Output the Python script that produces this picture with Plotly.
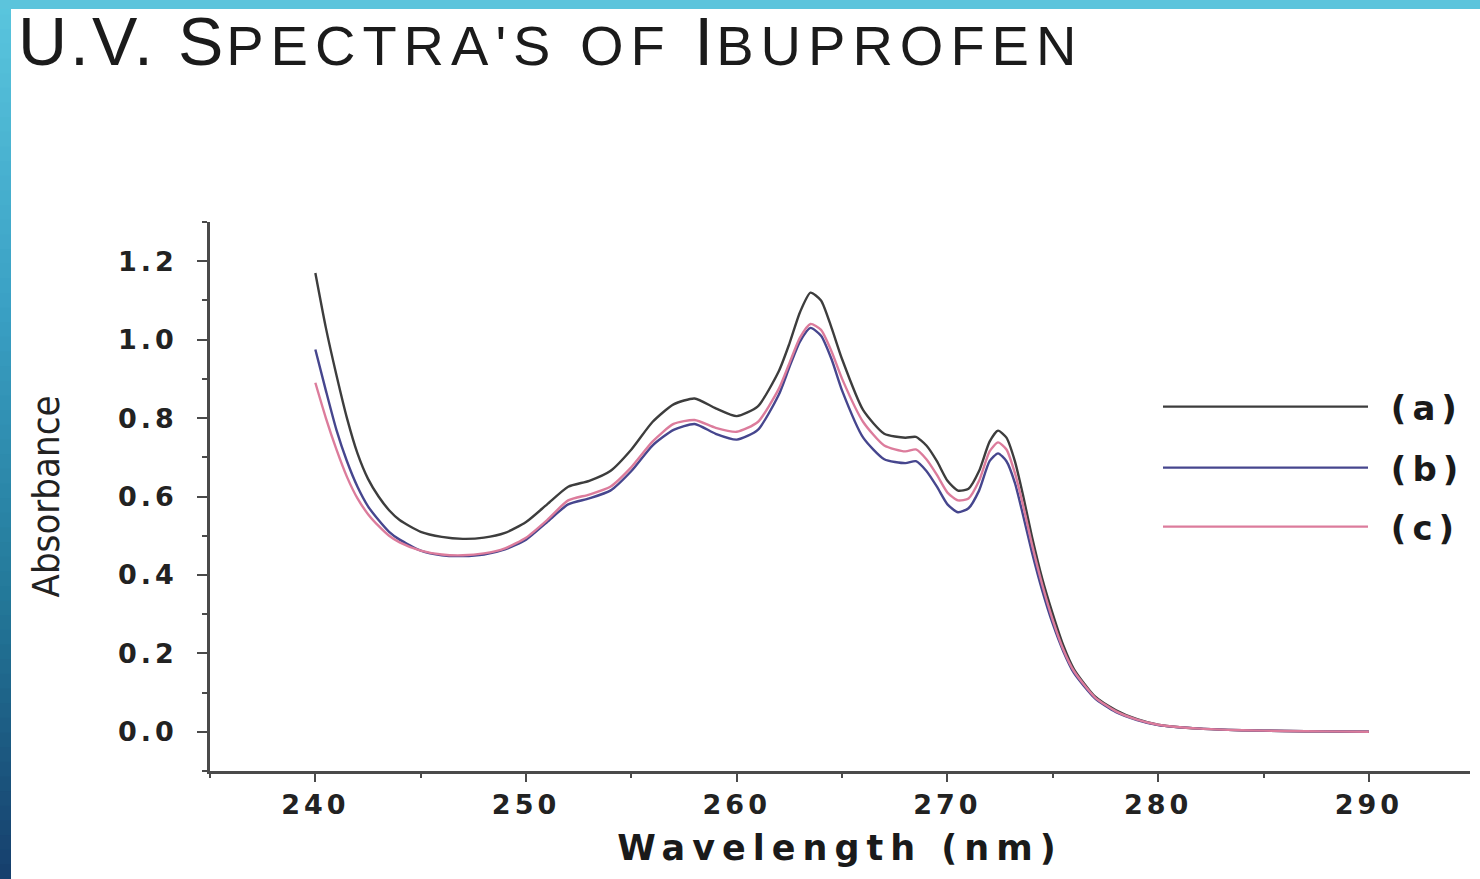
import plotly.graph_objects as go

# ---------------- data ----------------
wavelength = [240, 240.5, 241, 241.5, 242, 242.5, 243, 243.5, 244, 245, 246, 247, 248, 249,
              250, 251, 252, 253, 254, 255, 256, 257, 258, 259, 260, 261, 262, 262.5, 263,
              263.5, 264, 264.5, 265, 266, 267, 268, 268.5, 269, 269.5, 270, 270.5, 271,
              271.5, 272, 272.4, 272.8, 273.2, 273.6, 274, 274.5, 275, 275.5, 276, 277,
              278, 279, 280, 282, 284, 286, 288, 290]

abs_a = [1.17, 1.03, 0.91, 0.80, 0.71, 0.645, 0.60, 0.565, 0.54, 0.51, 0.497, 0.492, 0.495, 0.507,
         0.535, 0.58, 0.625, 0.64, 0.665, 0.72, 0.79, 0.835, 0.85, 0.825, 0.805, 0.83, 0.92, 0.99, 1.07,
         1.12, 1.10, 1.03, 0.95, 0.82, 0.76, 0.75, 0.752, 0.73, 0.69, 0.64, 0.615, 0.62,
         0.665, 0.74, 0.768, 0.75, 0.69, 0.60, 0.50, 0.39, 0.30, 0.22, 0.16, 0.09,
         0.055, 0.032, 0.018, 0.008, 0.004, 0.002, 0.001, 0.0]

abs_b = [0.975, 0.87, 0.77, 0.69, 0.625, 0.575, 0.54, 0.51, 0.49, 0.462, 0.45, 0.448, 0.452, 0.465,
         0.49, 0.535, 0.58, 0.595, 0.615, 0.665, 0.73, 0.77, 0.785, 0.76, 0.745, 0.77, 0.86, 0.93, 0.995,
         1.03, 1.01, 0.95, 0.87, 0.75, 0.695, 0.685, 0.69, 0.665, 0.625, 0.58, 0.56, 0.57,
         0.615, 0.69, 0.71, 0.69, 0.635, 0.55, 0.46, 0.36, 0.275, 0.205, 0.15, 0.085,
         0.05, 0.03, 0.017, 0.008, 0.004, 0.002, 0.001, 0.0]

abs_c = [0.89, 0.80, 0.72, 0.65, 0.595, 0.555, 0.525, 0.50, 0.483, 0.462, 0.452, 0.45, 0.455, 0.468,
         0.495, 0.54, 0.59, 0.605, 0.625, 0.675, 0.74, 0.785, 0.795, 0.775, 0.765, 0.79, 0.875, 0.94, 1.005,
         1.04, 1.025, 0.97, 0.90, 0.79, 0.73, 0.715, 0.72, 0.695, 0.655, 0.61, 0.59, 0.595,
         0.64, 0.715, 0.738, 0.72, 0.66, 0.575, 0.48, 0.375, 0.285, 0.21, 0.155, 0.088,
         0.052, 0.031, 0.018, 0.008, 0.004, 0.002, 0.001, 0.0]

series_names = ["(a)", "(b)", "(c)"]
series_values = [abs_a, abs_b, abs_c]
series_colors = ["#3d3d3d", "#46468e", "#dc7c9c"]

y_tickvals = [0.0, 0.2, 0.4, 0.6, 0.8, 1.0, 1.2]
x_tickvals = [240, 250, 260, 270, 280, 290]

# ---------------- layout constants ----------------
W, H = 1480, 879
ML, MR, MT, MB = 210, 10, 222, 108
PW, PH = W - ML - MR, H - MT - MB


def px_x(px):
    return (px - ML) / PW


def px_y(py):
    return (H - MB - py) / PH


def spaced(text, ls):
    return f"<span style='letter-spacing:{ls}px'>{text}</span>"


fig = go.Figure()

legend_names = ["legend", "legend2", "legend3"]
legend_centers = [407, 468, 527]

for name, vals, col, lg in zip(series_names, series_values, series_colors, legend_names):
    fig.add_trace(go.Scatter(
        x=wavelength, y=vals, mode="lines", name=spaced(" " + name, 6),
        line=dict(color=col, width=2.4, shape="spline", smoothing=0.6),
        legend=lg,
    ))

legend_common = dict(
    font=dict(family="DejaVu Sans", size=34, color="#1a1a1a", weight="bold"),
    itemwidth=205, bgcolor="rgba(0,0,0,0)", borderwidth=0,
    xanchor="left", yanchor="middle", x=px_x(1158),
)
layout_legends = {}
for lg, cy in zip(legend_names, legend_centers):
    layout_legends[lg] = dict(legend_common, y=px_y(cy))

# ---------------- decorative slide border (gradient strips) ----------------
shapes = []
stops = [(0.0, (90, 198, 222)), (0.35, (58, 160, 196)), (0.68, (35, 120, 153)), (1.0, (22, 63, 108))]


def grad(t):
    for (t0, c0), (t1, c1) in zip(stops[:-1], stops[1:]):
        if t0 <= t <= t1:
            f = (t - t0) / (t1 - t0)
            return "rgb(%d,%d,%d)" % tuple(round(a + (b - a) * f) for a, b in zip(c0, c1))
    return "rgb(%d,%d,%d)" % stops[-1][1]


n_strips = 60
for i in range(n_strips):
    y0 = H * i / n_strips
    y1 = H * (i + 1) / n_strips + 1
    shapes.append(dict(type="rect", xref="paper", yref="paper",
                       x0=px_x(0), x1=px_x(11), y0=px_y(y1), y1=px_y(y0),
                       fillcolor=grad((i + 0.5) / n_strips), line=dict(width=0), layer="above"))
shapes.append(dict(type="rect", xref="paper", yref="paper",
                   x0=px_x(0), x1=px_x(W), y0=px_y(9), y1=px_y(0),
                   fillcolor="rgb(92,196,220)", line=dict(width=0), layer="above"))

title_text = (spaced("U.V. S", 3)
              + "<span style='font-size:56px;letter-spacing:7px'>PECTRA'S OF </span>"
              + spaced("I", 3)
              + "<span style='font-size:56px;letter-spacing:7px'>BUPROFEN</span>")

tick_font = dict(family="DejaVu Sans", size=27, color="#222222", weight="bold")

fig.update_layout(
    width=W, height=H,
    margin=dict(l=ML, r=MR, t=MT, b=MB, autoexpand=False),
    paper_bgcolor="white", plot_bgcolor="white",
    title=dict(text=title_text, xref="container", yref="container",
               x=18 / W, xanchor="left", y=1 - 17 / H, yanchor="top",
               font=dict(family="Liberation Sans", size=68, color="#1b1b1b")),
    showlegend=True,
    shapes=shapes,
    xaxis=dict(
        range=[235, 294.8], showgrid=False, zeroline=False,
        showline=True, linecolor="#4a4a4a", linewidth=2.5,
        ticks="outside", ticklen=8, tickwidth=2, tickcolor="#4a4a4a",
        tickmode="array", tickvals=x_tickvals,
        ticktext=[spaced(str(v), 4) for v in x_tickvals],
        tickfont=tick_font, ticklabelstandoff=0,
        minor=dict(tickmode="linear", tick0=235, dtick=5, ticklen=4, tickwidth=2, tickcolor="#4a4a4a", ticks="outside"),
        title=dict(text=spaced("Wavelength (nm)", 7), standoff=17,
                   font=dict(family="DejaVu Sans", size=35, color="#1a1a1a", weight="bold")),
    ),
    yaxis=dict(
        range=[-0.1, 1.3], showgrid=False, zeroline=False,
        showline=True, linecolor="#4a4a4a", linewidth=2.5,
        ticks="outside", ticklen=10, tickwidth=2, tickcolor="#4a4a4a",
        tickmode="array", tickvals=y_tickvals,
        ticktext=[spaced(f"{v:.1f}", 4) for v in y_tickvals],
        tickfont=tick_font, ticklabelstandoff=14,
        minor=dict(tickmode="linear", tick0=0, dtick=0.1, ticklen=5, tickwidth=2, tickcolor="#4a4a4a", ticks="outside"),
        title=dict(text="Absorbance", standoff=47,
                   font=dict(family="DejaVu Sans Condensed, Liberation Sans, sans-serif", size=38, color="#222222")),
    ),
    **layout_legends,
)

fig.write_html("out.html", config={"displayModeBar": False},
               post_script="document.body.style.margin='0';document.body.style.overflow='hidden';")
